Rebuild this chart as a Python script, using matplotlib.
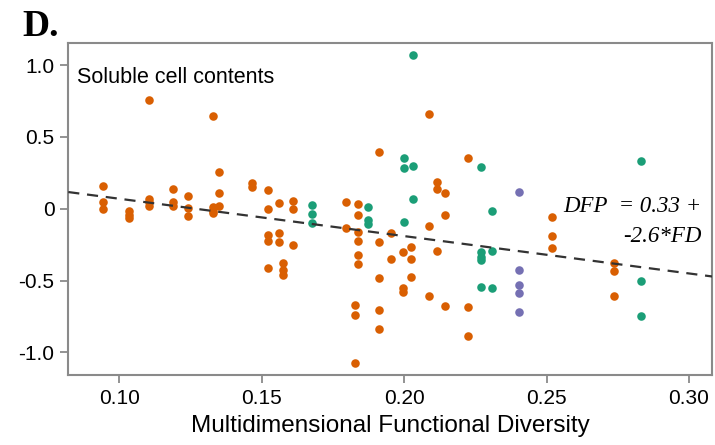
import matplotlib
matplotlib.use("Agg")
import matplotlib.pyplot as plt
import numpy as np

# functional diversity (x) and soluble cell content response (y), per group
fd_orange = [0.0942, 0.0942, 0.0942,
             0.1035, 0.1035, 0.1035,
             0.1105, 0.1105, 0.1105, 0.1105,
             0.1187, 0.1187, 0.1187,
             0.1242, 0.1242, 0.1242,
             0.1330, 0.1330, 0.1330, 0.1330,
             0.1351, 0.1351, 0.1351,
             0.1465, 0.1465,
             0.1523, 0.1523, 0.1523, 0.1523, 0.1523,
             0.1561, 0.1561, 0.1561,
             0.1576, 0.1576, 0.1576,
             0.1611, 0.1611, 0.1611,
             0.1795, 0.1795,
             0.1828, 0.1828, 0.1828,
             0.1837, 0.1837, 0.1837, 0.1837, 0.1837, 0.1837,
             0.1912, 0.1912, 0.1912, 0.1912, 0.1912,
             0.1954, 0.1954,
             0.1995, 0.1995, 0.1995,
             0.2023, 0.2023, 0.2023,
             0.2087, 0.2087, 0.2087,
             0.2114, 0.2114, 0.2114,
             0.2143, 0.2143, 0.2143,
             0.2224, 0.2224, 0.2224,
             0.2521, 0.2521, 0.2521,
             0.2738, 0.2738, 0.2738]
dfp_orange = [0.160, 0.044, -0.004,
              -0.014, -0.044, -0.067,
              0.757, 0.067, 0.044, 0.021,
              0.137, 0.044, 0.021,
              0.090, 0.003, -0.051,
              0.645, 0.010, -0.014, -0.028,
              0.258, 0.111, 0.021,
              0.181, 0.153,
              0.130, -0.004, -0.183, -0.223, -0.415,
              0.042, -0.171, -0.234,
              -0.380, -0.427, -0.462,
              0.056, 0.000, -0.251,
              0.047, -0.137,
              -0.670, -0.740, -1.076,
              0.033, -0.042, -0.160, -0.223, -0.322, -0.385,
              0.397, -0.230, -0.485, -0.705, -0.840,
              -0.171, -0.350,
              -0.304, -0.554, -0.578,
              -0.265, -0.350, -0.478,
              0.657, -0.120, -0.608,
              0.184, 0.137, -0.294,
              0.107, -0.044, -0.675,
              0.355, -0.686, -0.886,
              -0.060, -0.190, -0.274,
              -0.380, -0.432, -0.606]

fd_green = [0.1675, 0.1675, 0.1675,
            0.1874, 0.1874, 0.1874,
            0.2000, 0.2000, 0.2000,
            0.2032, 0.2032, 0.2032,
            0.2270, 0.2270, 0.2270, 0.2270, 0.2270,
            0.2307, 0.2307, 0.2307,
            0.2833, 0.2833, 0.2833]
dfp_green = [0.028, -0.037, -0.097,
             0.014, -0.079, -0.107,
             0.351, 0.281, -0.090,
             1.070, 0.300, 0.068,
             0.292, -0.304, -0.334, -0.357, -0.543,
             -0.016, -0.292, -0.554,
             0.332, -0.503, -0.747]

fd_purple = [0.2404, 0.2404, 0.2404, 0.2404, 0.2404]
dfp_purple = [0.118, -0.427, -0.531, -0.585, -0.717]

# fitted line: DFP = 0.33 + -2.6*FD
intercept = 0.33
slope = -2.6

xticks = [0.10, 0.15, 0.20, 0.25, 0.30]
xticklabels = ["0.10", "0.15", "0.20", "0.25", "0.30"]
yticks = [1.0, 0.5, 0.0, -0.5, -1.0]
yticklabels = ["1.0", "0.5", "0", "-0.5", "-1.0"]

sans = "Liberation Sans"
serif = "Liberation Serif"
frame = "#8a8a8a"

fig = plt.figure(figsize=(7.15, 4.45), dpi=100)
ax = fig.add_axes([0.0955, 0.1573, 0.9007, 0.7467])
xlim = (0.0821, 0.3082)
ax.set_xlim(*xlim)
ax.set_ylim(-1.157, 1.156)

ax.scatter(fd_orange, dfp_orange, s=38, color="#D95F02", linewidths=0, zorder=3)
ax.scatter(fd_green, dfp_green, s=38, color="#1B9E77", linewidths=0, zorder=3)
ax.scatter(fd_purple, dfp_purple, s=38, color="#7570B3", linewidths=0, zorder=3)

xs = np.array(xlim)
ax.plot(xs, intercept + slope * xs, color="#333333", lw=1.6,
        dashes=(5, 3.5), zorder=4)

ax.set_xticks(xticks)
ax.set_xticklabels(xticklabels, fontfamily=sans, fontsize=15)
ax.set_yticks(yticks)
ax.set_yticklabels(yticklabels, fontfamily=sans, fontsize=15)
ax.tick_params(axis="both", color=frame, width=1.3, length=6, pad=4)
for sp in ax.spines.values():
    sp.set_color(frame)
    sp.set_linewidth(1.5)

ax.set_xlabel("Multidimensional Functional Diversity", fontfamily=sans,
              fontsize=17.5, labelpad=5)

ax.text(0.014, 0.8796, "Soluble cell contents", transform=ax.transAxes,
        fontfamily=sans, fontsize=15.5, va="baseline", ha="left")

ax.text(0.9835, 0.4914, "DFP  = 0.33 +", transform=ax.transAxes,
        fontfamily=serif, fontstyle="italic", fontsize=16.5,
        va="baseline", ha="right")
ax.text(0.9835, 0.4011, "-2.6*FD", transform=ax.transAxes,
        fontfamily=serif, fontstyle="italic", fontsize=16.5,
        va="baseline", ha="right")

fig.text(0.0317, 0.919, "D.", fontfamily=serif, fontweight="bold",
         fontsize=27, va="baseline", ha="left")

fig.savefig("out.png", dpi=100)
